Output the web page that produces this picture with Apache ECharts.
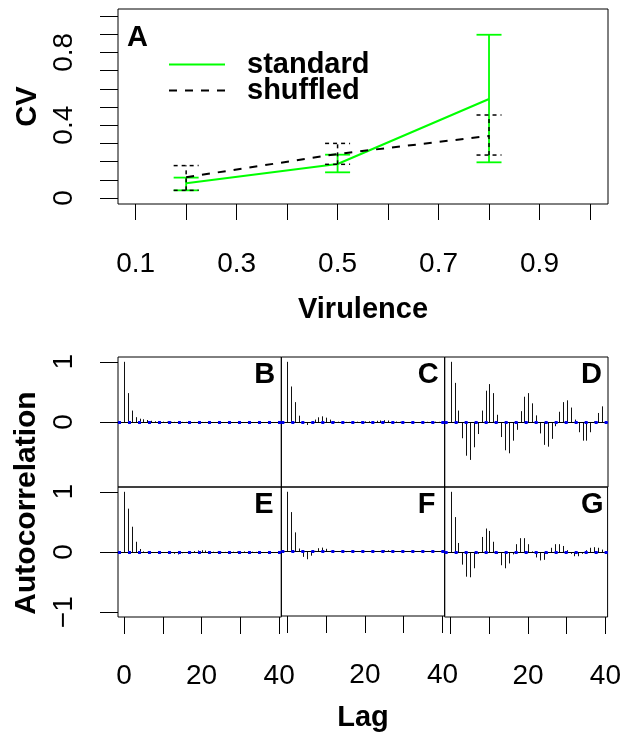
<!DOCTYPE html>
<html><head><meta charset="utf-8">
<script src="https://cdn.jsdelivr.net/npm/echarts@6/dist/echarts.min.js"></script>
<style>html,body{margin:0;padding:0;background:#fff}#c{width:624px;height:733px}</style>
</head><body><div id="c"></div>
<script>
// ---------- Panel A data ----------
const virulence = [0.2, 0.5, 0.8];
const cvStandard = [0.081, 0.187, 0.544];
const cvStandardLo = [0.042, 0.141, 0.196];
const cvStandardHi = [0.112, 0.238, 0.897];
const cvShuffled = [0.114, 0.242, 0.341];
const cvShuffledLo = [0.042, 0.185, 0.236];
const cvShuffledHi = [0.178, 0.300, 0.456];
const virTicks = [0.1, 0.2, 0.3, 0.4, 0.5, 0.6, 0.7, 0.8, 0.9, 1.0];
const virLabels = [0.1, 0.3, 0.5, 0.7, 0.9];
const cvTicks = [0, 0.1, 0.2, 0.3, 0.4, 0.5, 0.6, 0.7, 0.8, 0.9, 1.0];
const cvLabels = [0, 0.4, 0.8];

// ---------- ACF panels data (lags 0..39) ----------
const lags = [0,1,2,3,4,5,6,7,8,9,10,11,12,13,14,15,16,17,18,19,20,21,22,23,24,25,26,27,28,29,30,31,32,33,34,35,36,37,38,39];
const acfB = [1.00,0.48,0.19,0.08,0.055,0.045,0.033,0.02,0.012,0.008,0.006,0.005,0.004,0.003,0.003,0.002,0.002,0.002,0.001,0.001,0.001,0.001,0,0,0,0,0,-0.001,-0.001,-0.001,0,0,0,0,0,0,0,0,0,0];
const acfC = [1.00,0.59,0.33,0.105,0.01,-0.05,-0.02,0.04,0.078,0.094,0.072,0.04,0.01,0.005,0.003,0.002,0.002,0.003,0.005,0.008,0.01,0.012,0.015,0.02,0.025,0.03,0.025,0.015,0.008,0.004,0,-0.003,-0.005,-0.005,-0.003,0,0.003,0.005,0.005,0.003];
const acfD = [1.00,0.65,0.19,-0.27,-0.56,-0.63,-0.42,-0.20,0.19,0.52,0.63,0.48,0.12,-0.25,-0.47,-0.52,-0.31,-0.13,0.18,0.42,0.48,0.31,0.11,-0.19,-0.38,-0.41,-0.28,-0.07,0.17,0.33,0.36,0.24,0.04,-0.17,-0.31,-0.31,-0.17,0.01,0.15,0.26];
const acfE = [1.00,0.72,0.42,0.17,0.05,0.01,0.003,0,-0.002,-0.003,-0.004,-0.006,-0.01,-0.03,-0.04,-0.02,-0.005,0.005,0.015,0.025,0.03,0.025,0.015,0.005,0.003,0.002,0.002,0.003,0.005,0.008,0.01,0.01,0.008,0.005,0.002,0,0,0,0,0];
const acfF = [1.00,0.66,0.32,0.05,-0.09,-0.13,-0.07,0.01,0.055,0.065,0.045,0.01,0,-0.005,-0.01,-0.01,-0.005,0,0.005,0.008,0.008,0.005,0,-0.003,0.01,0.02,0.02,0.012,0.005,0,-0.003,-0.005,-0.008,-0.008,-0.005,0,0.003,0.005,0.004,0];
const acfG = [1.00,0.58,0.15,-0.21,-0.41,-0.42,-0.27,-0.03,0.25,0.39,0.35,0.17,-0.03,-0.22,-0.27,-0.19,-0.04,0.13,0.23,0.23,0.13,0.01,-0.09,-0.14,-0.13,-0.03,0.07,0.13,0.13,0.10,0.03,-0.03,-0.07,-0.07,-0.03,0.03,0.07,0.08,0.07,0.04];
const acfCI = [0.01, 0.01, 0.01, 0.01, 0.01, 0.01];
const panelLetters = ['B', 'C', 'D', 'E', 'F', 'G'];
const acfAll = [acfB, acfC, acfD, acfE, acfF, acfG];
const lagTicks = [0, 10, 20, 30, 40];
const lagLabelsByCol = [[0, 20, 40], [20, 40], [20, 40]];
const acfTicksByRow = [[0, 1], [-1, 0, 1]];
const acfLabelText = { '-1': '\u22121', '0': '0', '1': '1' };

// ---------- layout ----------
const FONT = 'Liberation Sans, Arial, Helvetica, sans-serif';
const TICK_FS = 28, TITLE_FS = 29;
const A = { left: 118, top: 9, width: 490, height: 195 };
const colLeft = [118, 281.33, 444.67], colW = 163.33;
const rowTop = [357, 487], rowH = 130;

const grids = [], xAxes = [], yAxes = [], series = [], graphics = [];
const tickStyle = { color: '#000', width: 1 };
const labelBase = { color: '#000', fontSize: TICK_FS, fontFamily: FONT };
const noLine = { show: false, onZero: false };

// Panel A
grids.push({ left: A.left, top: A.top, width: A.width, height: A.height, show: true, borderColor: '#000', borderWidth: 1 });
xAxes.push({
  gridIndex: 0, type: 'value', min: 0.065, max: 1.0357,
  axisLine: noLine, splitLine: { show: false },
  axisTick: { show: true, customValues: virTicks, length: 16, lineStyle: tickStyle },
  axisLabel: Object.assign({ customValues: virLabels, margin: 46, formatter: v => String(v) }, labelBase),
  name: 'Virulence', nameLocation: 'middle', nameGap: 91,
  nameTextStyle: { fontSize: TITLE_FS, fontWeight: 'bold', color: '#000', fontFamily: FONT }
});
yAxes.push({
  gridIndex: 0, type: 'value', min: -0.033, max: 1.0385,
  axisLine: noLine, splitLine: { show: false },
  axisTick: { show: true, customValues: cvTicks, length: 18, lineStyle: tickStyle },
  axisLabel: Object.assign({ customValues: cvLabels, rotate: 90, margin: 40, formatter: v => String(v) }, labelBase),
  name: 'CV', nameLocation: 'middle', nameGap: 76, nameRotate: 90,
  nameTextStyle: { fontSize: TITLE_FS, fontWeight: 'bold', color: '#000', fontFamily: FONT }
});

function errRender(color, dash, width) {
  return function (params, api) {
    const x = api.value(0);
    const pLo = api.coord([x, api.value(1)]);
    const pHi = api.coord([x, api.value(2)]);
    const hw = 12.5;
    const st = { stroke: color, lineWidth: width, lineDash: dash, fill: null };
    return {
      type: 'group', children: [
        { type: 'line', shape: { x1: pLo[0], y1: pLo[1], x2: pHi[0], y2: pHi[1] }, style: st },
        { type: 'line', shape: { x1: pLo[0] - hw, y1: pLo[1], x2: pLo[0] + hw, y2: pLo[1] }, style: st },
        { type: 'line', shape: { x1: pHi[0] - hw, y1: pHi[1], x2: pHi[0] + hw, y2: pHi[1] }, style: st }
      ]
    };
  };
}
series.push({
  type: 'custom', name: 'standard-err', xAxisIndex: 0, yAxisIndex: 0, z: 2,
  renderItem: errRender('#00ff00', null, 1.8),
  data: virulence.map((v, i) => [v, cvStandardLo[i], cvStandardHi[i]])
});
series.push({
  type: 'line', name: 'standard', xAxisIndex: 0, yAxisIndex: 0, z: 3, symbol: 'none',
  lineStyle: { color: '#00ff00', width: 2 }, itemStyle: { color: '#00ff00' },
  data: virulence.map((v, i) => [v, cvStandard[i]])
});
series.push({
  type: 'custom', name: 'shuffled-err', xAxisIndex: 0, yAxisIndex: 0, z: 4,
  renderItem: errRender('#000', [4, 4], 1.5),
  data: virulence.map((v, i) => [v, cvShuffledLo[i], cvShuffledHi[i]])
});
series.push({
  type: 'line', name: 'shuffled', xAxisIndex: 0, yAxisIndex: 0, z: 5, symbol: 'none',
  lineStyle: { color: '#000', width: 2, type: [8, 8] }, itemStyle: { color: '#000' },
  data: virulence.map((v, i) => [v, cvShuffled[i]])
});
graphics.push({ type: 'text', left: 127, top: 23, style: { text: 'A', font: 'bold ' + TITLE_FS + 'px ' + FONT, fill: '#000' } });

// ACF panels
for (let k = 0; k < 6; k++) {
  const row = Math.floor(k / 3), col = k % 3, gi = k + 1;
  grids.push({ left: colLeft[col], top: rowTop[row], width: colW, height: rowH, show: true, borderColor: '#000', borderWidth: 1 });
  const bottomRow = row === 1;
  const xa = {
    gridIndex: gi, type: 'value', min: -1.56, max: 40.56,
    axisLine: noLine, splitLine: { show: false },
    axisTick: { show: bottomRow, customValues: lagTicks, length: 17, lineStyle: tickStyle },
    axisLabel: Object.assign({ show: bottomRow, customValues: lagLabelsByCol[col], margin: 45, formatter: v => String(v) }, labelBase)
  };
  if (bottomRow && col === 1) {
    xa.name = 'Lag'; xa.nameLocation = 'middle'; xa.nameGap = 87;
    xa.nameTextStyle = { fontSize: TITLE_FS, fontWeight: 'bold', color: '#000', fontFamily: FONT };
  }
  xAxes.push(xa);
  yAxes.push({
    gridIndex: gi, type: 'value', min: -1.08, max: 1.08,
    axisLine: noLine, splitLine: { show: false },
    axisTick: { show: col === 0, customValues: acfTicksByRow[row], length: 18, lineStyle: tickStyle },
    axisLabel: Object.assign({ show: col === 0, customValues: acfTicksByRow[row], rotate: 90, margin: 40, formatter: v => acfLabelText[String(v)] }, labelBase)
  });
  const ci = acfCI[k];
  series.push({
    type: 'custom', name: 'acf' + panelLetters[k], xAxisIndex: gi, yAxisIndex: gi, z: 2,
    renderItem: function (params, api) {
      const p0 = api.coord([api.value(0), 0]);
      const p1 = api.coord([api.value(0), api.value(1)]);
      const x = Math.round(p0[0]) + 0.5;
      return { type: 'line', shape: { x1: x, y1: p0[1], x2: x, y2: p1[1] }, style: { stroke: '#111', lineWidth: 1 } };
    },
    data: lags.map((l, i) => [l, acfAll[k][i]]),
    markLine: {
      silent: true, symbol: 'none', label: { show: false }, animation: false,
      data: [
        { yAxis: 0, lineStyle: { color: '#000', type: 'solid', width: 1 } },
        { yAxis: ci, lineStyle: { color: '#0000ee', type: [3, 7], width: 2.2 } },
        { yAxis: -ci, lineStyle: { color: '#0000ee', type: [3, 7], width: 2.2 } }
      ]
    }
  });
  graphics.push({
    type: 'text', left: colLeft[col] + colW - 7 - 20, top: rowTop[row] + 3,
    style: { text: panelLetters[k], font: 'bold ' + TITLE_FS + 'px ' + FONT, fill: '#000' }
  });
}
graphics.push({
  type: 'text', x: 27, y: 503, rotation: Math.PI / 2,
  style: { text: 'Autocorrelation', font: 'bold 30px ' + FONT, fill: '#000', textAlign: 'center', textVerticalAlign: 'middle' }
});

const chart = echarts.init(document.getElementById('c'), null, { renderer: 'canvas' });
chart.setOption({
  animation: false,
  backgroundColor: '#fff',
  grid: grids, xAxis: xAxes, yAxis: yAxes, series: series,
  legend: {
    data: ['standard', 'shuffled'], orient: 'vertical', left: 163, top: 45,
    itemWidth: 56, itemHeight: 14, itemGap: -3, selectedMode: false,
    itemStyle: { opacity: 0 },
    textStyle: { fontSize: TITLE_FS, fontWeight: 'bold', color: '#000', fontFamily: FONT, lineHeight: 26, padding: [0, 0, 0, 17] }
  },
  graphic: graphics
});
</script></body></html>
